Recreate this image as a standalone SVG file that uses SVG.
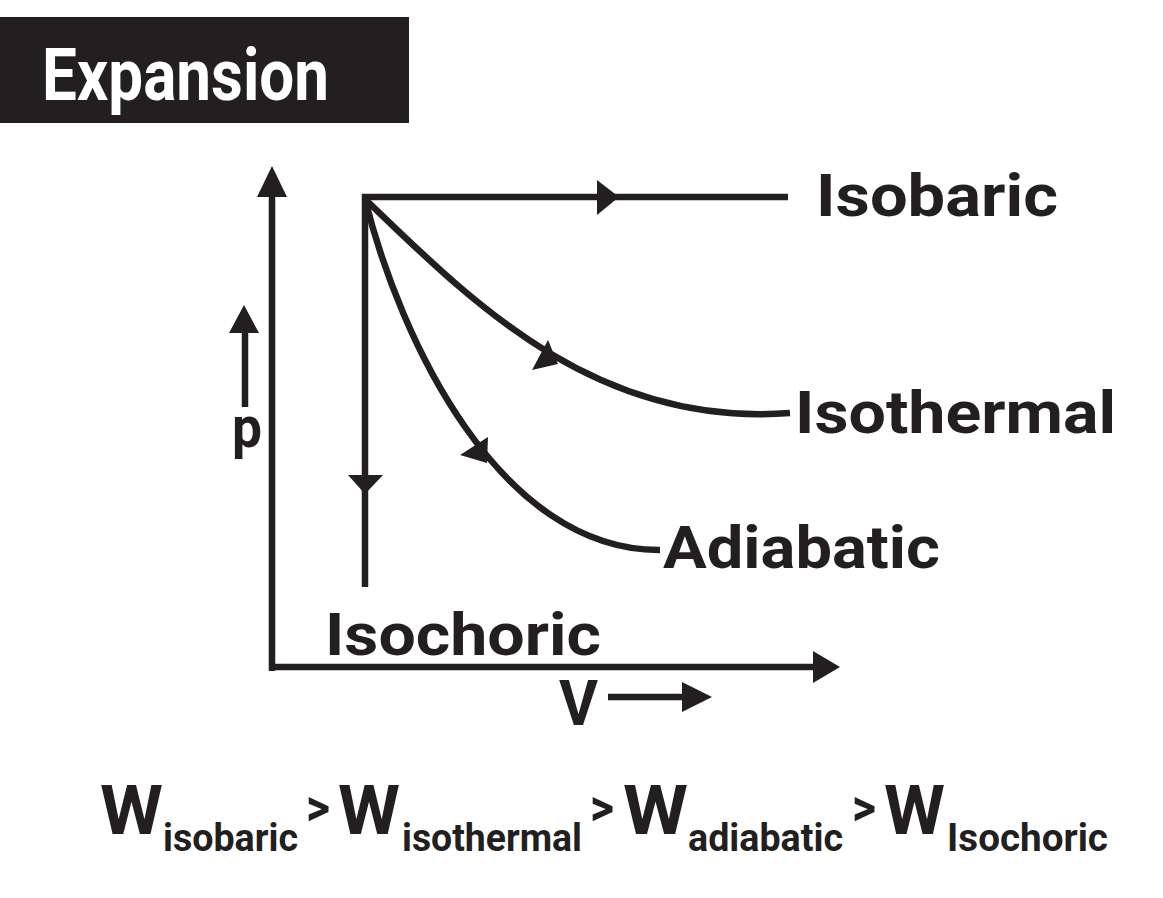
<svg xmlns="http://www.w3.org/2000/svg" width="1163" height="898" viewBox="0 0 1163 898">
<style>
.ln{fill:none;stroke:#231f20;stroke-width:6.5;stroke-linecap:butt}
.ah{fill:#231f20;stroke:none}
.t{font-family:Roboto,"DejaVu Sans",sans-serif;font-weight:bold;fill:#231f20}
.lab{font-size:60px}
.w{font-size:68px}
.sub{font-size:38px}
.gt{font-size:52px}
</style>
<rect width="1163" height="898" fill="#ffffff"/>
<g id="title">
<rect x="0" y="17" width="409" height="106" fill="#231f20"/>
<text class="t" x="42" y="100" font-size="72" style="fill:#ffffff" textLength="287" lengthAdjust="spacingAndGlyphs">Expansion</text>
</g>
<g id="connectors">
<path class="ln" d="M272,671 L272,195"/>
<polygon class="ah" points="272,166 287,197 257,197"/>
<path class="ln" d="M269,667 L815,667"/>
<polygon class="ah" points="840,667 813,651 813,683"/>
<path class="ln" d="M362,197 L788,197"/>
<polygon class="ah" points="619,197 597,180 597,215"/>
<path class="ln" d="M365,194 L365,587"/>
<polygon class="ah" points="365,494 348,475 383,475"/>
<path class="ln" d="M365,199 C470,300 595,428 790,413"/>
<polygon class="ah" points="558,364 532,370 548,340"/>
<path class="ln" d="M365,199 C400,340 500,551 660,550"/>
<polygon class="ah" points="487,463 460,455 488,437"/>
<path class="ln" d="M245,407 L245,330"/>
<polygon class="ah" points="244,305 259,333 229,333"/>
<path class="ln" d="M608,697 L685,697"/>
<polygon class="ah" points="712,697 682,682 682,712"/>
</g>
<g id="label-isobaric"><text class="t lab" x="816" y="216" textLength="242" lengthAdjust="spacingAndGlyphs">Isobaric</text></g>
<g id="label-isothermal"><text class="t lab" x="795" y="433" textLength="321" lengthAdjust="spacingAndGlyphs">Isothermal</text></g>
<g id="label-adiabatic"><text class="t lab" x="663" y="568" textLength="277" lengthAdjust="spacingAndGlyphs">Adiabatic</text></g>
<g id="label-isochoric"><text class="t lab" x="325" y="655" textLength="276" lengthAdjust="spacingAndGlyphs">Isochoric</text></g>
<g id="label-p"><text class="t" x="232" y="447" font-size="58" textLength="30" lengthAdjust="spacingAndGlyphs">p</text></g>
<g id="label-v"><text class="t" x="559" y="725" font-size="63" textLength="39" lengthAdjust="spacingAndGlyphs">V</text></g>
<g id="formula">
<text class="t w" x="100" y="834" textLength="63" lengthAdjust="spacingAndGlyphs">W</text>
<text class="t sub" x="163" y="851" textLength="135" lengthAdjust="spacingAndGlyphs">isobaric</text>
<text class="t gt" x="306" y="825" textLength="24" lengthAdjust="spacingAndGlyphs">&gt;</text>
<text class="t w" x="338" y="834" textLength="62" lengthAdjust="spacingAndGlyphs">W</text>
<text class="t sub" x="402" y="851" textLength="180" lengthAdjust="spacingAndGlyphs">isothermal</text>
<text class="t gt" x="590" y="825" textLength="24" lengthAdjust="spacingAndGlyphs">&gt;</text>
<text class="t w" x="623" y="834" textLength="65" lengthAdjust="spacingAndGlyphs">W</text>
<text class="t sub" x="688" y="851" textLength="155" lengthAdjust="spacingAndGlyphs">adiabatic</text>
<text class="t gt" x="852" y="825" textLength="24" lengthAdjust="spacingAndGlyphs">&gt;</text>
<text class="t w" x="884" y="834" textLength="61" lengthAdjust="spacingAndGlyphs">W</text>
<text class="t sub" x="947" y="851" textLength="161" lengthAdjust="spacingAndGlyphs">Isochoric</text>
</g>
</svg>
